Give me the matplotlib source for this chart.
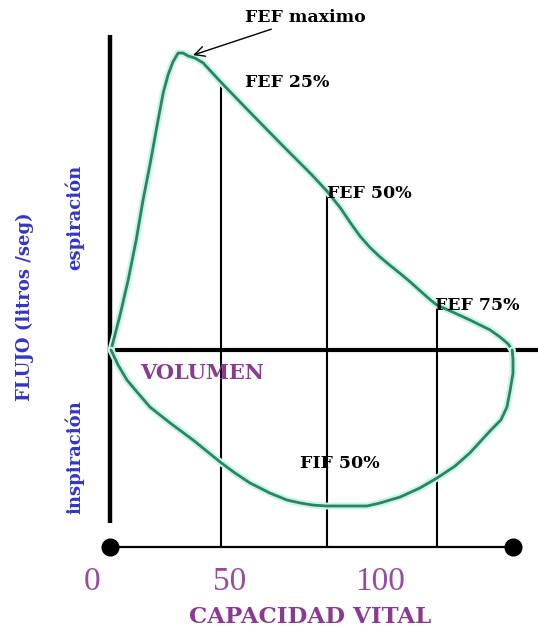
import matplotlib
matplotlib.use('Agg')
import matplotlib.pyplot as plt

# flow-volume loop, volume in % of vital capacity, flow in l/s
exp_vol = [0.25, 2.5, 4.5, 6.5, 8.2, 9.9, 11.7, 13.2, 14.4, 15.6, 16.9, 18.1, 19.4,
           21.1, 23.1, 27.5, 34.7, 42.2, 50.0, 53.8, 57.1, 59.6, 62.0, 64.5, 67.0, 69.5,
           72.0, 74.4, 76.9, 79.4, 81.1, 85.6, 89.3, 94.3, 96.8, 98.8, 99.8]
exp_flow = [0.0, 1.17, 2.33, 3.67, 5.0, 6.17, 7.5, 8.57, 9.17, 9.6, 9.9, 9.9, 9.8,
            9.73, 9.57, 8.93, 7.93, 6.9, 5.85, 5.3, 4.75, 4.25, 3.8, 3.42, 3.1, 2.82,
            2.55, 2.28, 1.98, 1.68, 1.5, 1.23, 1.0, 0.67, 0.43, 0.2, 0.0]

insp_vol = [99.8, 100.0, 100.0, 99.3, 98.5, 97.0, 94.5, 89.3, 85.6, 81.1, 76.9, 72.0,
            67.0, 63.8, 57.1, 53.8, 50.4, 47.2, 43.9, 39.7, 34.7, 31.0, 27.3, 20.6,
            14.9, 9.9, 6.7, 4.2, 2.0, 0.25]
insp_flow = [0.0, -0.33, -0.77, -1.33, -1.9, -2.33, -2.67, -3.43, -3.87, -4.27, -4.6,
             -4.9, -5.1, -5.2, -5.2, -5.2, -5.17, -5.1, -5.0, -4.77, -4.43, -4.1,
             -3.73, -3.0, -2.43, -1.9, -1.4, -1.0, -0.5, 0.0]

# FEF 25 / 50 / 75 %
fef_vol = [27.5, 53.8, 81.1]
fef_flow = [8.93, 5.3, 1.5]
fef_labels = ['FEF 25%', 'FEF 50%', 'FEF 75%']

peak_vol, peak_flow = 20.6, 9.83
vc_end = 100.0

tick_labels = ['0', '50', '100']
tick_pos = [-4.5, 29.8, 67.0]

fig = plt.figure(figsize=(5.38, 6.38), dpi=100)
ax = fig.add_axes([0, 0, 1, 1])
ax.set_xlim(-27.3, 106.2)
ax.set_ylim(-9.6, 11.667)
ax.axis('off')

base = -6.57  # bottom volume line

# axes of the diagram
ax.plot([0, 0], [-5.75, 10.5], color='black', lw=3.2, solid_capstyle='butt')
ax.plot([0, 106.2], [0, 0], color='black', lw=3.0)
ax.plot([0, vc_end], [base, base], color='black', lw=1.6)
ax.plot([0, vc_end], [base, base], 'o', color='black', ms=12)
ax.vlines(fef_vol, base, fef_flow, color='black', lw=1.5)

# loop with light halo
for xs, ys in [(exp_vol, exp_flow), (insp_vol, insp_flow)]:
    ax.plot(xs, ys, color='#c9f4ea', lw=5.0, solid_capstyle='round', solid_joinstyle='round')
    ax.plot(xs, ys, color='#2a8560', lw=2.0, solid_capstyle='round', solid_joinstyle='round')

serif = 'DejaVu Serif'
for lab, v, f, dx in zip(fef_labels, fef_vol, fef_flow, [6.0, 0.0, -0.5]):
    ax.text(v + dx, f + (0.0 if dx else -0.08), lab, family=serif, weight='bold',
            fontsize=12.5, ha='left', va='center')

ax.annotate('FEF maximo', xy=(peak_vol, peak_flow), xytext=(33.5, 11.07),
            family=serif, weight='bold', fontsize=12.5, ha='left', va='center',
            arrowprops=dict(arrowstyle='->', color='black', lw=1.0,
                            mutation_scale=18, shrinkA=0, shrinkB=0))

ax.text(47.1, -3.77, 'FIF 50%', family=serif, weight='bold', fontsize=12.5,
        ha='left', va='center')
ax.text(7.4, -0.77, 'VOLUMEN', family=serif, weight='bold', fontsize=15,
        color='#8a3a90', ha='left', va='center')

for lab, p in zip(tick_labels, tick_pos):
    ax.text(p, -7.73, lab, family='Liberation Serif', fontsize=24, color='#9a4aa0',
            ha='center', va='center')
ax.text(49.6, -8.9, 'CAPACIDAD VITAL', family=serif, weight='bold', fontsize=16.5,
        color='#8a3a90', ha='center', va='center')

ax.text(-21.1, 1.43, 'FLUJO (litros /seg)', family=serif, weight='bold', fontsize=13,
        color='#3434c8', rotation=90, ha='center', va='center')
ax.text(-8.7, 4.43, 'espiración', family=serif, weight='bold', fontsize=13,
        color='#3434c8', rotation=90, ha='center', va='center')
ax.text(-8.7, -3.57, 'inspiración', family=serif, weight='bold', fontsize=13,
        color='#3434c8', rotation=90, ha='center', va='center')

fig.savefig('out.png', dpi=100)
